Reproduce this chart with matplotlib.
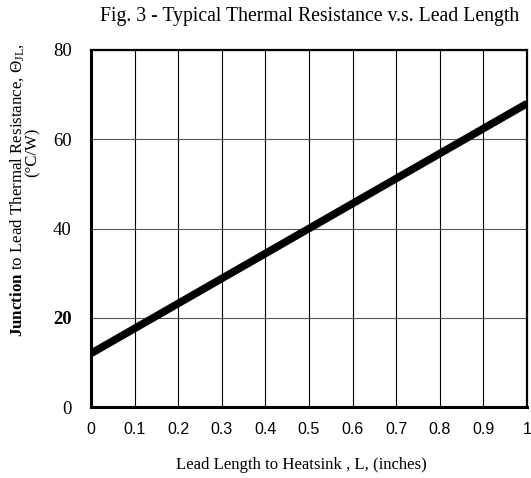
import matplotlib
matplotlib.use("Agg")
import matplotlib.pyplot as plt

lead_length = [0.0, 1.0]
theta_jl = [12.0, 68.0]
x_ticks = [0, 0.1, 0.2, 0.3, 0.4, 0.5, 0.6, 0.7, 0.8, 0.9, 1]
x_tick_labels = ["0", "0.1", "0.2", "0.3", "0.4", "0.5", "0.6", "0.7", "0.8", "0.9", "1"]
y_ticks = [0, 20, 40, 60, 80]
y_tick_labels = ["0", "20", "40", "60", "80"]

plt.rcParams['mathtext.fontset'] = 'custom'
plt.rcParams['mathtext.rm'] = 'Liberation Serif'
plt.rcParams['mathtext.bf'] = 'Liberation Serif:bold'
plt.rcParams['mathtext.it'] = 'Liberation Serif:italic'

fig = plt.figure(figsize=(5.31, 4.78), dpi=100)
ax = fig.add_axes([91/531, 1-407/478, (527-91)/531, (407-50)/478])

ax.plot(lead_length, theta_jl, color='black', linewidth=5.5, solid_capstyle='butt', clip_on=True)
ax.set_xlim(0, 1)
ax.set_ylim(0, 80)
ax.set_xticks(x_ticks)
ax.set_xticklabels(x_tick_labels, fontfamily='Liberation Sans', fontsize=11.5)
ax.set_yticks(y_ticks)
ax.set_yticklabels(y_tick_labels, fontfamily='Liberation Serif', fontsize=13.5)
for lab in ax.get_yticklabels():
    if lab.get_text() == "20":
        lab.set_fontweight('bold')
ax.tick_params(axis='y', length=0, pad=14)
ax.tick_params(axis='x', length=0, pad=11)
ax.grid(axis='x', color='black', linewidth=0.8)
ax.grid(axis='y', color='#555555', linewidth=0.8)
for s in ['left', 'bottom']:
    ax.spines[s].set_linewidth(2.2)
for s in ['top', 'right']:
    ax.spines[s].set_linewidth(1.6)

fig.text(309.5/531, 1-16/478, "Fig. 3 - Typical Thermal Resistance v.s. Lead Length",
         fontfamily='Liberation Serif', fontsize=14.2, ha='center', va='center')
fig.text(301/531, 1-465/478, "Lead Length to Heatsink , L, (inches)",
         fontfamily='Liberation Serif', fontsize=12.1, ha='center', va='center')
fig.text(17/531, 1-190/478, r"$\mathbf{Junction}$ to Lead Thermal Resistance, $\Theta_{\rm JL}$,",
         fontfamily='Liberation Serif', fontsize=12.2, rotation=90, ha='center', va='center')
fig.text(33/531, 1-152/478, "(°C/W)",
         fontfamily='Liberation Serif', fontsize=12, rotation=90, ha='center', va='center')

fig.savefig("out.png", dpi=100)
